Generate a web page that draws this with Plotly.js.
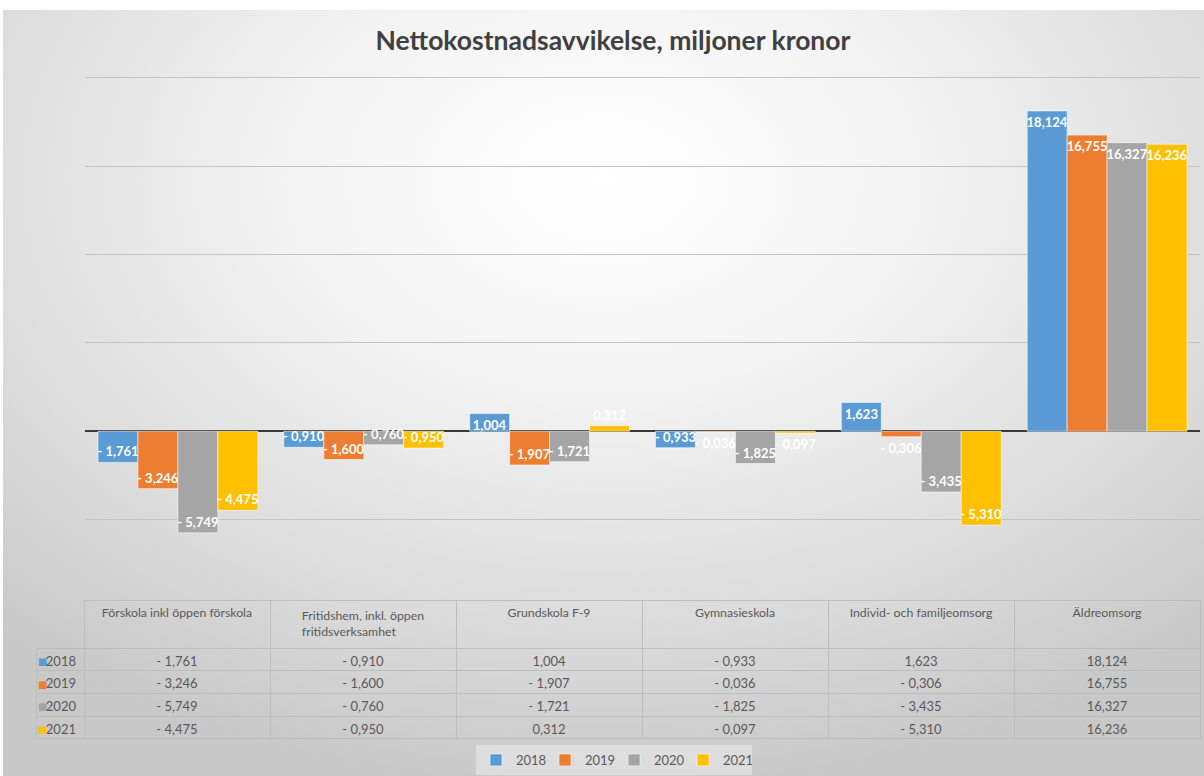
<!DOCTYPE html>
<html>
<head>
<meta charset="utf-8">
<script src="https://cdn.plot.ly/plotly-3.0.1.min.js"></script>
<style>
  html, body { margin: 0; padding: 0; background: #ffffff; }
  #bg { position: absolute; left: 3px; top: 10px; width: 1201px; height: 766px;
        background: radial-gradient(ellipse 75% 80% at 50% 22%, #ffffff 0%, #f3f3f3 35%, #dadada 75%, #c8c8c8 100%); }
  #chart { position: absolute; left: 0; top: 0; width: 1204px; height: 776px; }
</style>
</head>
<body>
<div id="bg"></div>
<div id="chart"></div>
<script>
const categories = [
  "Förskola inkl öppen förskola",
  "Fritidshem, inkl. öppen fritidsverksamhet",
  "Grundskola F-9",
  "Gymnasieskola",
  "Individ- och familjeomsorg",
  "Äldreomsorg"
];
const headerLabels = [
  "Förskola inkl öppen förskola",
  "Fritidshem, inkl. öppen<br>fritidsverksamhet",
  "Grundskola F-9",
  "Gymnasieskola",
  "Individ- och familjeomsorg",
  "Äldreomsorg"
];
const years = ["2018", "2019", "2020", "2021"];
const v2018 = [-1.761, -0.910, 1.004, -0.933, 1.623, 18.124];
const v2019 = [-3.246, -1.600, -1.907, -0.036, -0.306, 16.755];
const v2020 = [-5.749, -0.760, -1.721, -1.825, -3.435, 16.327];
const v2021 = [-4.475, -0.950, 0.312, -0.097, -5.310, 16.236];
const colors = ["#5B9BD5", "#ED7D31", "#A5A5A5", "#FFC000"];

const series = [v2018, v2019, v2020, v2021];
const fmt = v => (v < 0 ? "- " : "") + Math.abs(v).toFixed(3).replace(".", ",");
const FONT = "Lato, Open Sans, sans-serif";
const W = 1204, H = 776;
const px = x => x / W, py = y => 1 - y / H;

// table geometry (pixels)
const HDR_H = 48, ROW_H = 22.7, TBL_LEFT = 36, TBL_RIGHT = 1200;
const TBL_TOP = 648 - HDR_H;

const traces = series.map((vals, i) => ({
  type: "bar",
  name: years[i],
  x: categories,
  y: vals,
  text: vals.map(fmt),
  textposition: vals.map(v => Math.abs(v) >= 0.7 ? "inside" : "outside"),
  insidetextanchor: "end",
  constraintext: "none",
  cliponaxis: false,
  textangle: 0,
  textfont: { color: "#ffffff", size: 13, family: FONT, weight: "bold" },
  marker: { color: colors[i], line: { color: "rgba(255,255,255,0.55)", width: 1 } },
  hoverinfo: "skip"
}));

const columns = [years].concat(categories.map((c, ci) => series.map(s => fmt(s[ci]))));
const lineCol = "#bdbdbd";

traces.push({
  type: "table",
  domain: { x: [px(TBL_LEFT), px(TBL_RIGHT)], y: [py(746), py(TBL_TOP)] },
  columnwidth: [48, 186, 186, 186, 186, 186, 186],
  header: {
    values: [""].concat(headerLabels),
    height: HDR_H,
    align: "center",
    fill: { color: "rgba(0,0,0,0)" },
    line: { color: ["rgba(0,0,0,0)"].concat(categories.map(() => lineCol)), width: 1 },
    font: { family: FONT, size: 12.3, color: "#595959" }
  },
  cells: {
    values: columns,
    height: ROW_H,
    align: ["right", "center"],
    fill: { color: "rgba(0,0,0,0)" },
    line: { color: lineCol, width: 1 },
    font: { family: FONT, size: 13, color: "#595959" }
  },
  showlegend: false
});

// colored legend keys in the table's row-label column
const keyAnnotations = years.map((y, i) => ({
  xref: "paper", yref: "paper",
  x: px(TBL_LEFT + 6), y: py(TBL_TOP + HDR_H + ROW_H * i + ROW_H / 2 + 2),
  xanchor: "center", yanchor: "middle",
  text: "■", showarrow: false, borderpad: 0,
  font: { size: 10, color: colors[i], family: "DejaVu Sans" }
}));

const layout = {
  width: W, height: H,
  margin: { l: 0, r: 0, t: 0, b: 0 },
  paper_bgcolor: "rgba(0,0,0,0)",
  plot_bgcolor: "rgba(0,0,0,0)",
  barmode: "group",
  bargap: 0.14,
  bargroupgap: 0,
  title: {
    text: "<b>Nettokostnadsavvikelse, miljoner kronor</b>",
    x: px(613), xanchor: "center",
    y: py(41), yanchor: "middle",
    font: { family: FONT, size: 26.5, color: "#404040" }
  },
  xaxis: {
    domain: [px(85), px(1200)],
    showticklabels: false, showgrid: false, zeroline: false, showline: false,
    fixedrange: true
  },
  yaxis: {
    domain: [py(608), py(76)],
    range: [-10, 20.1],
    dtick: 5,
    showticklabels: false,
    showgrid: true, gridcolor: "#c3c3c3", gridwidth: 1,
    zeroline: true, zerolinecolor: "#3a3a3a", zerolinewidth: 2,
    showline: false, fixedrange: true
  },
  annotations: keyAnnotations,
  showlegend: true,
  legend: {
    orientation: "h",
    x: px(614), xanchor: "center",
    y: py(760), yanchor: "middle",
    bgcolor: "rgba(255,255,255,0.35)",
    font: { family: FONT, size: 13, color: "#595959" },
    itemwidth: 30,
    entrywidth: 24,
    entrywidthmode: "pixels"
  }
};

Plotly.newPlot("chart", traces, layout, { displayModeBar: false, staticPlot: true });
</script>
</body>
</html>
